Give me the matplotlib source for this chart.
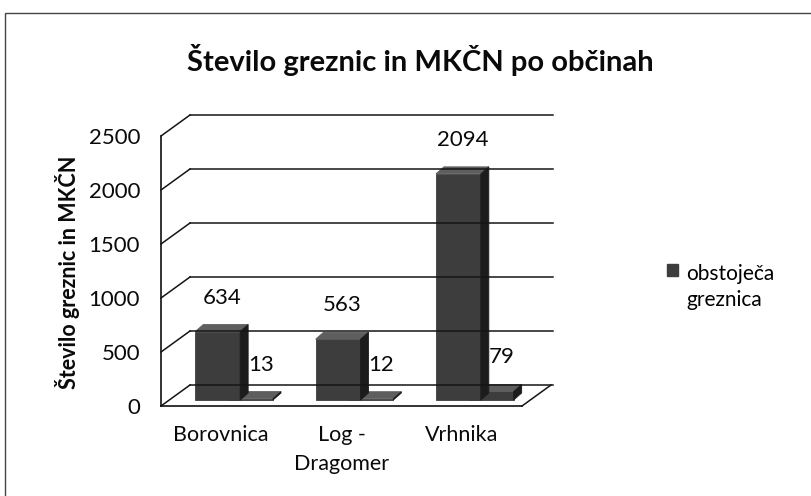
import matplotlib
matplotlib.use("Agg")
import matplotlib.pyplot as plt
from matplotlib.patches import Polygon, Rectangle, Patch
from matplotlib.lines import Line2D
from matplotlib.transforms import IdentityTransform
import numpy as np

# ---------------- data ----------------
categories = ["Borovnica", "Log -\nDragomer", "Vrhnika"]
series_names = ["obstoječa\ngreznica", "MKČN"]
greznice = [634, 563, 2094]
mkcn = [13, 12, 79]
yticks = [0, 500, 1000, 1500, 2000, 2500]
title = "Število greznic in MKČN po občinah"
ylabel = "Število greznic in MKČN"

# ---------------- style ----------------
W, H = 811, 496
plt.rcParams["font.family"] = ["Lato", "DejaVu Sans"]
fig = plt.figure(figsize=(W / 100, H / 100), dpi=100)
fig.patch.set_facecolor("white")

ax = fig.add_axes([161 / W, (H - 406) / H, 361 / W, 270 / H])
ax.set_xlim(-0.5, 2.5)
ax.set_ylim(0, 2500)
ax.patch.set_alpha(0)
for s in ["top", "right"]:
    ax.spines[s].set_visible(False)
for s in ["left", "bottom"]:
    ax.spines[s].set_color("#111111")
    ax.spines[s].set_linewidth(1.2)
ax.set_yticks(yticks)
ax.set_yticklabels([str(t) for t in yticks])
ax.set_xticks(range(len(categories)))
ax.set_xticklabels(categories)
ax.tick_params(axis="y", length=0, pad=15, labelsize=16, labelcolor="#0a0a0a")
ax.tick_params(axis="x", length=0, pad=14, labelsize=15.5, labelcolor="#0a0a0a")
for lbl in ax.get_xticklabels():
    lbl.set_linespacing(1.55)
    lbl.set_verticalalignment("top")

BACK = np.array([29.0, 21.0])   # depth of walls (pixels)
FOFF = np.array([9.0, 6.0])     # bar front-face offset
DEP = np.array([8.0, 7.0])      # bar depth

T = ax.transData.transform
ID = IdentityTransform()
lc = "#151515"

def line(p, q, lw=1.1):
    fig.add_artist(Line2D([p[0], q[0]], [p[1], q[1]], transform=ID, color=lc, lw=lw))

# walls: diagonals on the left wall and gridlines on back wall
for t in yticks:
    pf = T((-0.5, t))
    pb = pf + BACK
    line(pf, pb)
    line(pb, T((2.5, t)) + BACK + np.array([2, 0]))
# floor right edge
line(T((2.5, 0)), T((2.5, 0)) + BACK)

front_c = "#3d3d3d"
top_c = "#5e5e5e"
side_c = "#1c1c1c"

def bar3d(x0, x1, v):
    A = T((x0, 0)) + FOFF
    B = T((x1, 0)) + FOFF
    C = T((x1, v)) + FOFF
    Dd = T((x0, v)) + FOFF
    for pts, col in [([A, B, C, Dd], front_c),
                     ([Dd, C, C + DEP, Dd + DEP], top_c),
                     ([B, B + DEP, C + DEP, C], side_c)]:
        fig.add_artist(Polygon(pts, closed=True, transform=ID, facecolor=col,
                               edgecolor=col, lw=0.6))

def label(xc, v):
    ax.annotate(str(v), xy=(xc, v), xytext=(FOFF[0] + DEP[0] / 2, FOFF[1] + DEP[1] + 27),
                textcoords="offset pixels", ha="center", va="center",
                fontsize=16, color="#0a0a0a")

w = 0.373
for i in range(len(categories)):
    s1x0 = i - 0.29
    s1x1 = s1x0 + w
    s2x0 = s1x1 - 0.1
    s2x1 = s2x0 + w
    bar3d(s2x0, s2x1, mkcn[i])
    bar3d(s1x0, s1x1, greznice[i])
    label((s1x0 + s1x1) / 2, greznice[i])
    label((s2x0 + s2x1) / 2 + 0.05, mkcn[i])

# legend (first series only, as in the reference)
leg = fig.legend(handles=[Patch(facecolor=front_c, edgecolor=front_c)], labels=[series_names[0]],
                 loc="upper left", bbox_to_anchor=(648 / W, 1 - 245 / H), frameon=False,
                 handlelength=0.55, handleheight=0.55, handletextpad=0.4, fontsize=15,
                 labelspacing=0.5)
for col in leg._legend_handle_box.get_children():
    for entry in col.get_children():
        entry.align = "top"
for t in leg.get_texts():
    t.set_linespacing(1.4)

fig.text(420 / W, 1 - 60 / H, title, ha="center", va="center", fontsize=21,
         fontweight="bold", color="#0a0a0a")
fig.text(67 / W, 1 - 272 / H, ylabel, rotation=90, ha="center", va="center",
         fontsize=15.5, fontweight="bold", color="#0a0a0a")

# outer chart border
fig.add_artist(Rectangle((5 / W, -0.05), 1.0, 1.05 - 13 / H, transform=fig.transFigure,
                         fill=False, edgecolor="#444444", lw=1.0, clip_on=False))

fig.savefig("out.png", dpi=100)
